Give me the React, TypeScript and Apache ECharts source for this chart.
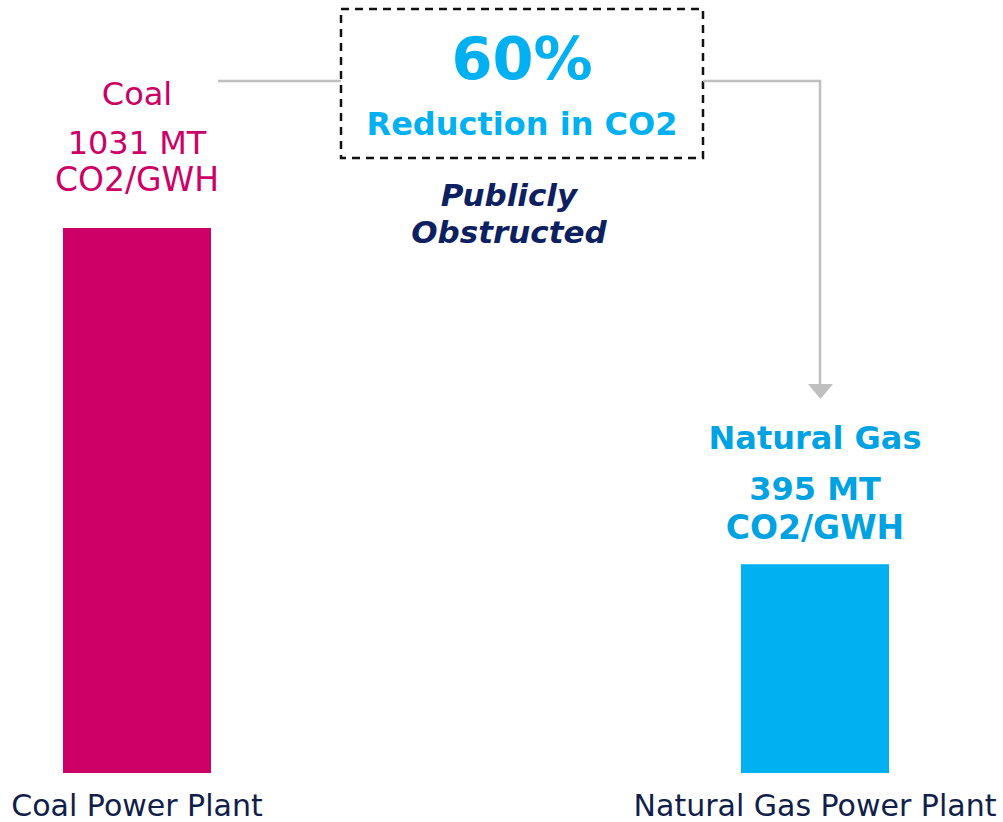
import React, { useEffect, useRef } from "react";
import * as echarts from "echarts";

const categories = ["Coal Power Plant", "Natural Gas Power Plant"];
const emissions = [1031, 395];
const fuelNames = ["Coal", "Natural Gas"];
const unitText = "MT";
const unitLine = "CO2/GWH";
const reductionPct = "60%";
const reductionText = "Reduction in CO2";
const noteLines = ["Publicly", "Obstructed"];

const COAL = "#cc0066";
const GAS = "#00b0f0";
const GAS_TEXT = "#00a2e2";
const NAVY = "#0d2160";
const AXIS_TEXT = "#10204a";
const GREY = "#bfbfbf";
const FONT = "'DejaVu Sans', Verdana, sans-serif";

export default function App() {
  const ref = useRef<HTMLDivElement>(null);

  useEffect(() => {
    if (!ref.current) return;
    const chart = echarts.init(ref.current, undefined, { renderer: "svg" });
    const colors = [COAL, GAS];
    const labelColors = [COAL, GAS_TEXT];
    const weights = ["normal", "bold"];
    const distances = [30, 18];
    const firstLH = [60, 65];
    const otherLH = [37, 38];
    const firstFS = [32, 32];
    const secondFS = [32, 32];
    const thirdFS = [33, 33];

    chart.setOption({
      animation: false,
      backgroundColor: "#ffffff",
      grid: { left: 137, right: 188, top: 228, bottom: 49, containLabel: false },
      xAxis: {
        type: "category",
        data: categories,
        boundaryGap: false,
        axisLine: { show: false },
        axisTick: { show: false },
        splitLine: { show: false },
        axisLabel: {
          color: AXIS_TEXT,
          fontFamily: FONT,
          fontSize: 30,
          lineHeight: 30,
          margin: 17,
        },
      },
      yAxis: {
        type: "value",
        min: 0,
        max: emissions[0],
        show: false,
        splitLine: { show: false },
      },
      series: [
        {
          type: "bar",
          barWidth: 148,
          data: emissions.map((v, i) => ({
            value: v,
            itemStyle: { color: colors[i] },
            label: {
              show: true,
              position: "top",
              distance: distances[i],
              align: "center",
              formatter: `{a|${fuelNames[i]}}\n{b|${v} ${unitText}}\n{c|${unitLine}}`,
              rich: {
                a: {
                  fontFamily: FONT,
                  fontSize: firstFS[i],
                  fontWeight: weights[i],
                  color: labelColors[i],
                  lineHeight: firstLH[i],
                  align: "center",
                },
                b: {
                  fontFamily: FONT,
                  fontSize: secondFS[i],
                  fontWeight: weights[i],
                  color: labelColors[i],
                  lineHeight: otherLH[i],
                  align: "center",
                },
                c: {
                  fontFamily: FONT,
                  fontSize: thirdFS[i],
                  fontWeight: weights[i],
                  color: labelColors[i],
                  lineHeight: otherLH[i],
                  align: "center",
                },
              },
            },
          })),
        },
      ],
      graphic: [
        {
          type: "rect",
          shape: { x: 341, y: 9, width: 362, height: 149 },
          style: { fill: "none", stroke: "#111", lineWidth: 2.5, lineDash: [8, 6] },
        },
        {
          type: "text",
          x: 522,
          y: 58,
          style: {
            text: reductionPct,
            fontFamily: FONT,
            fontSize: 59,
            fontWeight: "bold",
            fill: GAS,
            align: "center",
            verticalAlign: "middle",
          },
        },
        {
          type: "text",
          x: 522,
          y: 124,
          style: {
            text: reductionText,
            fontFamily: FONT,
            fontSize: 32,
            fontWeight: "bold",
            fill: GAS,
            align: "center",
            verticalAlign: "middle",
          },
        },
        {
          type: "text",
          x: 509,
          y: 195,
          style: {
            text: noteLines[0],
            fontFamily: FONT,
            fontSize: 31,
            fontWeight: "bold",
            fontStyle: "italic",
            fill: NAVY,
            align: "center",
            verticalAlign: "middle",
          },
        },
        {
          type: "text",
          x: 509,
          y: 232,
          style: {
            text: noteLines[1],
            fontFamily: FONT,
            fontSize: 31,
            fontWeight: "bold",
            fontStyle: "italic",
            fill: NAVY,
            align: "center",
            verticalAlign: "middle",
          },
        },
        {
          type: "polyline",
          shape: { points: [[218, 81], [341, 81]] },
          style: { stroke: GREY, lineWidth: 2.5, fill: "none" },
        },
        {
          type: "polyline",
          shape: { points: [[703, 81], [820, 81], [820, 385]] },
          style: { stroke: GREY, lineWidth: 2.5, fill: "none" },
        },
        {
          type: "polygon",
          shape: { points: [[808, 384], [833, 384], [820.5, 399]] },
          style: { fill: GREY, stroke: "none" },
        },
      ],
    });

    return () => chart.dispose();
  }, []);

  return (
    <div
      ref={ref}
      style={{ position: "fixed", left: 0, top: 0, width: 1003, height: 822 }}
    />
  );
}
